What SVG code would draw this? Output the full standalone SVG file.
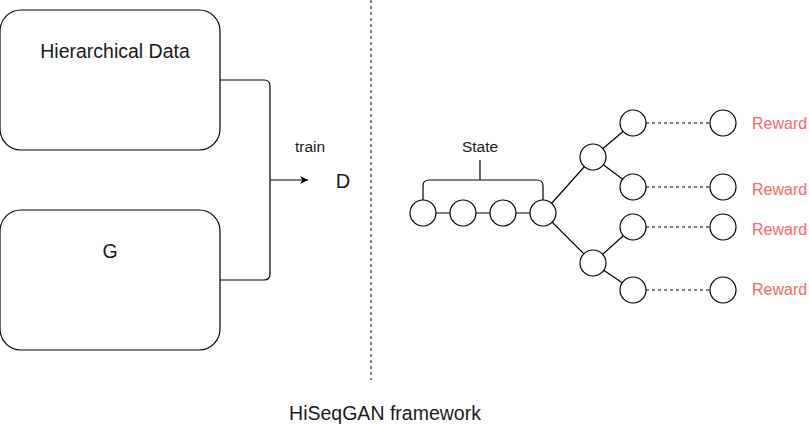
<svg xmlns="http://www.w3.org/2000/svg" width="809" height="428" viewBox="0 0 809 428">
<defs>
<style>
.box{fill:#fff;stroke:#000;stroke-width:1.2}
.c{fill:#fff;stroke:#000;stroke-width:1.2}
.ln{fill:none;stroke:#000;stroke-width:1.2}
.dash{fill:none;stroke:#000;stroke-width:1;stroke-dasharray:3 3}
.t{font-family:"Liberation Sans",Arial,sans-serif;fill:#1a1a1a;text-anchor:middle}
.r{font-family:"Liberation Sans",Arial,sans-serif;fill:#ff6666;font-size:16px}
</style>
<marker id="ah" markerWidth="10" markerHeight="10" refX="8" refY="5" orient="auto" markerUnits="userSpaceOnUse">
<path d="M0,1 L8,5 L0,9 L2.5,5 Z" fill="#000"/>
</marker>
</defs>
<rect width="809" height="428" fill="#fff"/>
<g id="connectors">
<path class="ln" d="M220,80 H264 Q270,80 270,86 V274 Q270,280 264,280 H220"/>
<path class="ln" d="M270,180 H308" marker-end="url(#ah)"/>
<line class="dash" x1="371" y1="0" x2="371" y2="380"/>
<path class="ln" d="M423,200 V186 Q423,180 429,180 H537 Q543,180 543,186 V200 M480,180 V160"/>
<path class="ln" d="M423,213 H543 M543,213 L593,157 L633,123 M593,157 L633,187 M543,213 L593,263 L633,227 M593,263 L633,290"/>
<path class="dash" d="M646,123 H710 M646,187 H710 M646,227 H710 M646,290 H710"/>
</g>
<g id="hier"><rect class="box" x="0" y="10" width="220" height="140" rx="21"/><text class="t" x="115" y="58" font-size="19.5">Hierarchical Data</text></g>
<g id="g"><rect class="box" x="0" y="210" width="220" height="140" rx="21"/><text class="t" x="110" y="258" font-size="19.5">G</text></g>
<g id="train"><text class="t" x="310" y="152" font-size="15.5">train</text></g>
<g id="d"><text class="t" x="343" y="188" font-size="20">D</text></g>
<g id="state"><text class="t" x="480" y="152" font-size="15.5">State</text></g>
<g id="n1"><circle class="c" cx="423" cy="213" r="13"/></g>
<g id="n2"><circle class="c" cx="463" cy="213" r="13"/></g>
<g id="n3"><circle class="c" cx="503" cy="213" r="13"/></g>
<g id="n4"><circle class="c" cx="543" cy="213" r="13"/></g>
<g id="n5"><circle class="c" cx="593" cy="157" r="13"/></g>
<g id="n6"><circle class="c" cx="593" cy="263" r="13"/></g>
<g id="n7"><circle class="c" cx="633" cy="123" r="13"/></g>
<g id="n8"><circle class="c" cx="633" cy="187" r="13"/></g>
<g id="n9"><circle class="c" cx="633" cy="227" r="13"/></g>
<g id="n10"><circle class="c" cx="633" cy="290" r="13"/></g>
<g id="r1"><circle class="c" cx="723" cy="123" r="13"/><text class="r" x="752" y="129">Reward</text></g>
<g id="r2"><circle class="c" cx="723" cy="187" r="13"/><text class="r" x="752" y="195">Reward</text></g>
<g id="r3"><circle class="c" cx="723" cy="227" r="13"/><text class="r" x="752" y="235">Reward</text></g>
<g id="r4"><circle class="c" cx="723" cy="290" r="13"/><text class="r" x="752" y="295">Reward</text></g>
<g id="title"><text class="t" x="385" y="420" font-size="19.5">HiSeqGAN framework</text></g>
</svg>
